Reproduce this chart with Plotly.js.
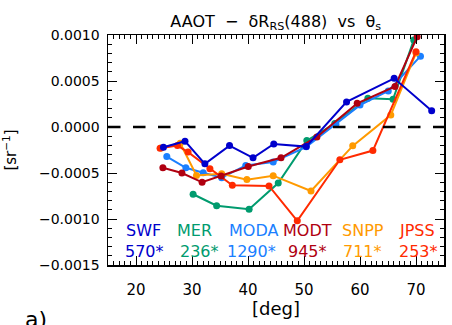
<!DOCTYPE html>
<html>
<head>
<meta charset="utf-8">
<script src="https://cdn.plot.ly/plotly-3.0.1.min.js"></script>
<style>
  html, body { margin: 0; padding: 0; background: #ffffff; }
  #chart { width: 452px; height: 325px; }
</style>
</head>
<body>
<div id="chart"></div>
<script>
// Solar zenith angle bins [deg] and delta Rrs(488) [sr^-1] per sensor
const swfX  = [24.9, 28.75, 32.3, 36.7, 40.9, 44.6, 50.4, 57.6, 66.1, 72.8];
const swfY  = [-0.00022, -0.000154, -0.0004, -0.000202, -0.000335, -0.000184, -0.000213, 0.000273, 0.000529, 0.000176];

const merX  = [30.2, 34.4, 40.2, 45.4, 50.5, 55.5, 61.4, 65.9, 69.6];
const merY  = [-0.000731, -0.000856, -0.000893, -0.00061, -0.000148, 0.000038, 0.000313, 0.000302, 0.000945];

const modaX = [25.5, 28.9, 32.0, 35.3, 39.6, 44.5, 50.4, 55.7, 60.0, 65.05, 70.8];
const modaY = [-0.000321, -0.000443, -0.000497, -0.000551, -0.000418, -0.000381, -0.000216, 0.00003, 0.000238, 0.000392, 0.00077];

const modtX = [24.8, 28.2, 31.8, 35.2, 40.05, 45.9, 52.3, 59.5, 66.25, 70.2];
const modtY = [-0.000443, -0.0005, -0.000601, -0.000532, -0.000429, -0.000335, -0.000108, 0.000257, 0.00044, 0.00098];

const snppX = [24.5, 27.9, 30.8, 35.3, 39.8, 44.5, 51.25, 58.7, 65.5, 70.0];
const snppY = [-0.000227, -0.000176, -0.000526, -0.000508, -0.000572, -0.000529, -0.000695, -0.000205, 0.00013, 0.000805];

const jpssX = [24.3, 27.4, 29.3, 33.2, 37.2, 43.75, 48.8, 56.4, 62.3, 70.0];
const jpssY = [-0.00023, -0.000202, -0.000273, -0.000454, -0.000634, -0.00064, -0.00102, -0.000356, -0.000256, 0.000819];

const sensorNames  = ['SWF', 'MER', 'MODA', 'MODT', 'SNPP', 'JPSS'];
const sensorCounts = ['570*', '236*', '1290*', '945*', '711*', '253*'];
const sensorColors = ['#0000cc', '#009b6e', '#1a7fff', '#b00010', '#ff9a00', '#ff2a00'];
// horizontal placement of the in-plot sensor labels (x in degrees)
const nameX  = [21.25, 30.5, 40.9, 50.7, 60.5, 70.2];
const countX = [21.6, 31.4, 40.7, 50.7, 60.5, 70.4];

const series = [
  [merX, merY, 1],
  [modaX, modaY, 2],
  [snppX, snppY, 4],
  [jpssX, jpssY, 5],
  [modtX, modtY, 3],
  [swfX, swfY, 0]
];

const FONT = 'DejaVu Sans, Liberation Sans, sans-serif';

const traces = series.map(([xs, ys, k]) => ({
  type: 'scatter',
  mode: 'lines+markers',
  x: xs,
  y: ys,
  name: sensorNames[k],
  line: { color: sensorColors[k], width: 2 },
  marker: { color: sensorColors[k], size: 7, symbol: 'circle' },
  cliponaxis: true,
  showlegend: false,
  hoverinfo: 'skip'
}));

const annotations = [];
sensorNames.forEach((n, i) => {
  annotations.push({
    x: nameX[i], y: -0.00112, xref: 'x', yref: 'y',
    text: n, showarrow: false,
    font: { family: FONT, size: 16, color: sensorColors[i] },
    xanchor: 'center', yanchor: 'middle'
  });
  annotations.push({
    x: countX[i], y: -0.00135, xref: 'x', yref: 'y',
    text: sensorCounts[i], showarrow: false,
    font: { family: FONT, size: 16, color: sensorColors[i] },
    xanchor: 'center', yanchor: 'middle'
  });
});
// panel letter in the lower-left corner
annotations.push({
  x: -0.215, y: -0.175, xref: 'paper', yref: 'paper',
  xanchor: 'center', yanchor: 'top',
  text: 'a)', showarrow: false,
  font: { family: FONT, size: 22, color: '#000000' }
});

const axisCommon = {
  showgrid: false,
  zeroline: false,
  showline: true,
  linecolor: '#000000',
  linewidth: 1.5,
  mirror: 'ticks',
  ticks: 'inside',
  tickcolor: '#000000',
  tickwidth: 1,
  ticklen: 9,
  tickfont: { family: FONT, size: 14, color: '#000000' }
};

const layout = {
  width: 452,
  height: 325,
  margin: { l: 108, r: 8, t: 35, b: 60 },
  paper_bgcolor: '#ffffff',
  plot_bgcolor: '#ffffff',
  title: {
    text: 'AAOT &nbsp;−&nbsp; δR<sub>RS</sub>(488) &nbsp;vs&nbsp; θ<sub>s</sub>',
    font: { family: FONT, size: 16, color: '#000000' },
    x: 0.61, xanchor: 'center',
    y: 0.935, yanchor: 'middle'
  },
  xaxis: Object.assign({}, axisCommon, {
    range: [15, 75],
    dtick: 10,
    tick0: 20,
    tickfont: { family: FONT, size: 15, color: '#000000' },
    ticklabelstandoff: 10,
    minor: { ticks: 'inside', dtick: 1, ticklen: 4, tickcolor: '#000000', tickwidth: 1 },
    title: { text: '[deg]', font: { family: FONT, size: 18, color: '#000000' }, standoff: 0 }
  }),
  yaxis: Object.assign({}, axisCommon, {
    range: [-0.0015, 0.0010],
    dtick: 0.0005,
    tickformat: '.4f',
    ticklabelstandoff: 4,
    minor: { ticks: 'inside', dtick: 0.0001, ticklen: 4, tickcolor: '#000000', tickwidth: 1 },
    title: { text: '[sr<sup>−1</sup>]', font: { family: FONT, size: 15, color: '#000000' }, standoff: 18 }
  }),
  shapes: [{
    type: 'line', xref: 'paper', yref: 'y',
    x0: 0, x1: 1, y0: 0, y1: 0,
    line: { color: '#000000', width: 2.5, dash: '12.5px,12.5px' }
  }],
  annotations: annotations
};

Plotly.newPlot('chart', traces, layout, { staticPlot: true, displayModeBar: false });
</script>
</body>
</html>
